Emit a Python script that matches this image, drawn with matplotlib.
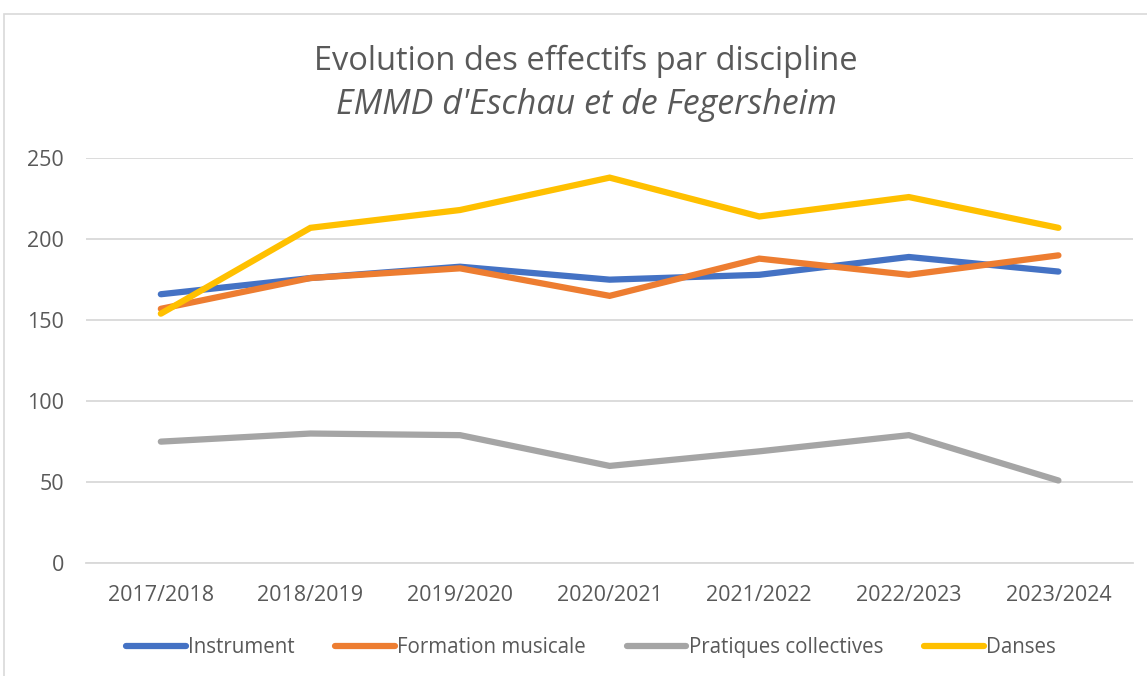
import matplotlib
matplotlib.use('Agg')
import matplotlib.pyplot as plt
from matplotlib.patches import Rectangle

plt.rcParams['font.family'] = ['Open Sans', 'DejaVu Sans']

# years on the x axis
annees = ['2017/2018', '2018/2019', '2019/2020', '2020/2021',
          '2021/2022', '2022/2023', '2023/2024']
# number of students per discipline
instrument = [166, 176, 183, 175, 178, 189, 180]
formation = [157, 176, 182, 165, 188, 178, 190]
pratiques = [75, 80, 79, 60, 69, 79, 51]
danses = [154, 207, 218, 238, 214, 226, 207]

series = [('Instrument', instrument, '#4472C4'),
          ('Formation musicale', formation, '#ED7D31'),
          ('Pratiques collectives', pratiques, '#A5A5A5'),
          ('Danses', danses, '#FFC000')]

txt = '#595959'

fig = plt.figure(figsize=(11.47, 6.76), dpi=100)
ax = fig.add_axes([0.075, 0.167, 0.913, 0.599])

x = range(len(annees))
for nom, vals, col in series:
    ax.plot(x, vals, color=col, lw=4.5, label=nom,
            solid_capstyle='round', solid_joinstyle='miter')

ax.set_xlim(-0.5, len(annees) - 0.5)
ax.set_ylim(0, 250)
ax.set_yticks(range(0, 251, 50))
ax.set_xticks(list(x))
ax.set_xticklabels(annees)
ax.grid(axis='y', color='#D9D9D9', lw=1.3)
ax.set_axisbelow(True)
for s in ax.spines.values():
    s.set_visible(False)
ax.spines['bottom'].set_visible(True)
ax.spines['bottom'].set_color('#D9D9D9')
ax.spines['bottom'].set_linewidth(1.3)
ax.tick_params(length=0, labelsize=15.5, colors=txt, pad=16)
ax.tick_params(axis='y', pad=16)

fig.text(0.511, 0.909, 'Evolution des effectifs par discipline',
         ha='center', va='center', fontsize=23.5, color=txt)
fig.text(0.511, 0.844, "EMMD d'Eschau et de Fegersheim",
         ha='center', va='center', fontsize=24.5, color=txt, style='italic')

leg = fig.legend(loc='center', bbox_to_anchor=(0.515, 0.042), ncol=4,
                 frameon=False, fontsize=14.8, handlelength=2.9,
                 handletextpad=0.1, columnspacing=2.0)
for t in leg.get_texts():
    t.set_color(txt)

fig.patches.append(Rectangle((4 / 1147, -0.1), 1.2, 1.1 - 14 / 676,
                             transform=fig.transFigure, fill=False,
                             edgecolor='#D9D9D9', lw=1.2))

fig.savefig('out.png', dpi=100)
